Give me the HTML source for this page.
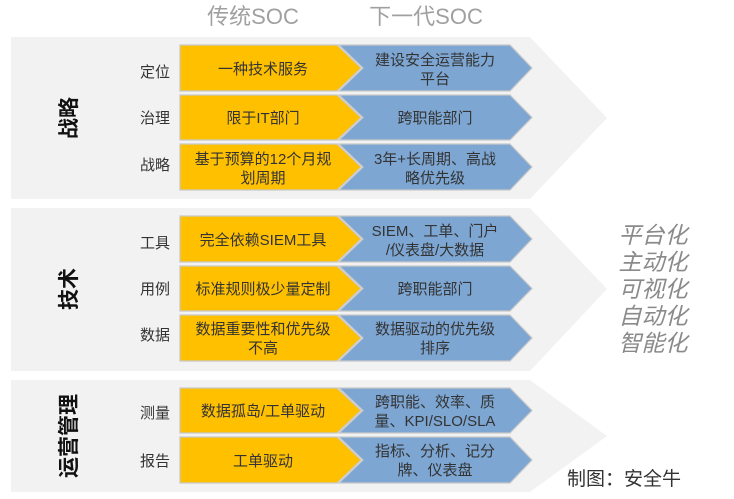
<!DOCTYPE html>
<html><head><meta charset="utf-8"><style>
html,body{margin:0;padding:0;background:#fff;}
svg{display:block;}
text{font-family:"Liberation Sans","Noto Sans CJK SC",sans-serif;}
</style></head><body>
<svg width="734" height="499" viewBox="0 0 734 499" xmlns="http://www.w3.org/2000/svg">
<!-- bands -->
<polygon points="11,37 530,37 607,118 530,199 11,199" fill="#f2f2f2"/>
<polygon points="11,208 530,208 607,289 530,371 11,371" fill="#f2f2f2"/>
<polygon points="11,380 530,380 607,436 530,492 11,492" fill="#f2f2f2"/>

<!-- headers -->
<text x="253" y="24" font-size="22" fill="#a0a0a0" text-anchor="middle">传统SOC</text>
<text x="426" y="24" font-size="22" fill="#a0a0a0" text-anchor="middle">下一代SOC</text>

<g stroke="#c8c8c8" stroke-width="1.2">
<!-- band1 rows -->
<polygon points="180,45 337,45 361,68 337,91 180,91" fill="#ffc000"/>
<polygon points="339,45 510,45 532,68 510,91 339,91 363,68" fill="#7da6d3"/>
<polygon points="180,95 337,95 361,117.5 337,140 180,140" fill="#ffc000"/>
<polygon points="339,95 510,95 532,117.5 510,140 339,140 363,117.5" fill="#7da6d3"/>
<polygon points="180,144 337,144 361,167 337,190 180,190" fill="#ffc000"/>
<polygon points="339,144 510,144 532,167 510,190 339,190 363,167" fill="#7da6d3"/>
<!-- band2 rows -->
<polygon points="180,216 337,216 361,239 337,262 180,262" fill="#ffc000"/>
<polygon points="339,216 510,216 532,239 510,262 339,262 363,239" fill="#7da6d3"/>
<polygon points="180,266 337,266 361,288.5 337,311 180,311" fill="#ffc000"/>
<polygon points="339,266 510,266 532,288.5 510,311 339,311 363,288.5" fill="#7da6d3"/>
<polygon points="180,315 337,315 361,338 337,361 180,361" fill="#ffc000"/>
<polygon points="339,315 510,315 532,338 510,361 339,361 363,338" fill="#7da6d3"/>
<!-- band3 rows -->
<polygon points="180,388 337,388 361,410.5 337,433 180,433" fill="#ffc000"/>
<polygon points="339,388 510,388 532,410.5 510,433 339,433 363,410.5" fill="#7da6d3"/>
<polygon points="180,437 337,437 361,460 337,483 180,483" fill="#ffc000"/>
<polygon points="339,437 510,437 532,460 510,483 339,483 363,460" fill="#7da6d3"/>
</g>

<!-- section labels (rotated) -->
<g font-size="21" font-weight="bold" fill="#111" text-anchor="middle">
<text transform="translate(76,118) rotate(-90)">战略</text>
<text transform="translate(76,289) rotate(-90)">技术</text>
<text transform="translate(76,436) rotate(-90)">运营管理</text>
</g>

<!-- row labels -->
<g font-size="15" fill="#333" text-anchor="end">
<text x="170" y="77">定位</text>
<text x="170" y="123">治理</text>
<text x="170" y="170">战略</text>
<text x="170" y="248">工具</text>
<text x="170" y="294">用例</text>
<text x="170" y="340">数据</text>
<text x="170" y="418">测量</text>
<text x="170" y="466">报告</text>
</g>

<!-- yellow text -->
<g font-size="15" fill="#333" text-anchor="middle">
<text x="263" y="74">一种技术服务</text>
<text x="263" y="123">限于IT部门</text>
<text x="263" y="164">基于预算的12个月规</text>
<text x="263" y="183">划周期</text>
<text x="263" y="245">完全依赖SIEM工具</text>
<text x="263" y="294">标准规则极少量定制</text>
<text x="263" y="334">数据重要性和优先级</text>
<text x="263" y="353">不高</text>
<text x="263" y="416">数据孤岛/工单驱动</text>
<text x="263" y="466">工单驱动</text>
</g>

<!-- blue text -->
<g font-size="15" fill="#333" text-anchor="middle">
<text x="435" y="65">建设安全运营能力</text>
<text x="435" y="84">平台</text>
<text x="435" y="123">跨职能部门</text>
<text x="435" y="164">3年+长周期、高战</text>
<text x="435" y="183">略优先级</text>
<text x="435" y="236">SIEM、工单、门户</text>
<text x="435" y="255">/仪表盘/大数据</text>
<text x="435" y="294">跨职能部门</text>
<text x="435" y="334">数据驱动的优先级</text>
<text x="435" y="353">排序</text>
<text x="435" y="407">跨职能、效率、质</text>
<text x="435" y="426">量、KPI/SLO/SLA</text>
<text x="435" y="456">指标、分析、记分</text>
<text x="435" y="475">牌、仪表盘</text>
</g>

<!-- right italic -->
<g font-size="23" fill="#8a8a8a" font-style="italic" text-anchor="middle">
<text x="653" y="243">平台化</text>
<text x="653" y="270">主动化</text>
<text x="653" y="297">可视化</text>
<text x="653" y="324">自动化</text>
<text x="653" y="351">智能化</text>
</g>

<text x="624" y="485" font-size="19" fill="#333" text-anchor="middle">制图：安全牛</text>
</svg>
</body></html>
